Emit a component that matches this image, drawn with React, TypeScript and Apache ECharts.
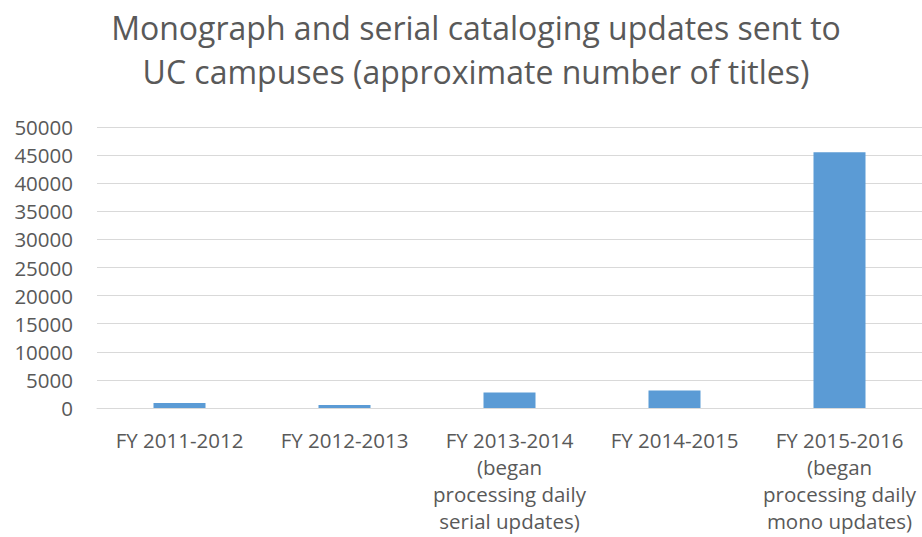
import React, { useEffect, useRef } from "react";
import * as echarts from "echarts";

const titleText = "Monograph and serial cataloging updates sent to\nUC campuses (approximate number of titles)";
const categories = [
  "FY 2011-2012",
  "FY 2012-2013",
  "FY 2013-2014\n(began\nprocessing daily\nserial updates)",
  "FY 2014-2015",
  "FY 2015-2016\n(began\nprocessing daily\nmono updates)",
];
const values = [880, 520, 2750, 3100, 45500];
const yMin = 0;
const yMax = 50000;
const yInterval = 5000;

export default function App() {
  const ref = useRef<HTMLDivElement>(null);
  useEffect(() => {
    if (!ref.current) return;
    const chart = echarts.init(ref.current, null, { renderer: "svg" });
    const font = "'Open Sans', sans-serif";
    chart.setOption({
      animation: false,
      backgroundColor: "#ffffff",
      title: {
        text: titleText,
        left: 476,
        top: 5,
        padding: 0,
        textAlign: "center",
        textStyle: {
          fontFamily: font,
          fontSize: 32,
          fontWeight: "normal",
          color: "#595959",
          lineHeight: 44,
        },
      },
      grid: { left: 97, right: -5, top: 127, bottom: 129, containLabel: false },
      xAxis: {
        type: "category",
        data: categories,
        axisLine: { show: true, lineStyle: { color: "#D9D9D9", width: 1 } },
        axisTick: { show: false },
        axisLabel: {
          interval: 0,
          margin: 18,
          fontFamily: font,
          fontSize: 20.5,
          color: "#595959",
          lineHeight: 27,
        },
      },
      yAxis: {
        type: "value",
        min: yMin,
        max: yMax,
        interval: yInterval,
        axisLine: { show: false },
        axisTick: { show: false },
        splitLine: { lineStyle: { color: "#D9D9D9", width: 1 } },
        axisLabel: {
          margin: 24,
          fontFamily: font,
          fontSize: 20.5,
          color: "#595959",
          formatter: (v: number) => String(v),
        },
      },
      series: [
        {
          type: "bar",
          data: values,
          barWidth: 52,
          itemStyle: { color: "#5B9BD5" },
        },
      ],
    });
    return () => chart.dispose();
  }, []);
  return <div ref={ref} style={{ width: 922, height: 537, position: "absolute", left: 0, top: 0 }} />;
}
